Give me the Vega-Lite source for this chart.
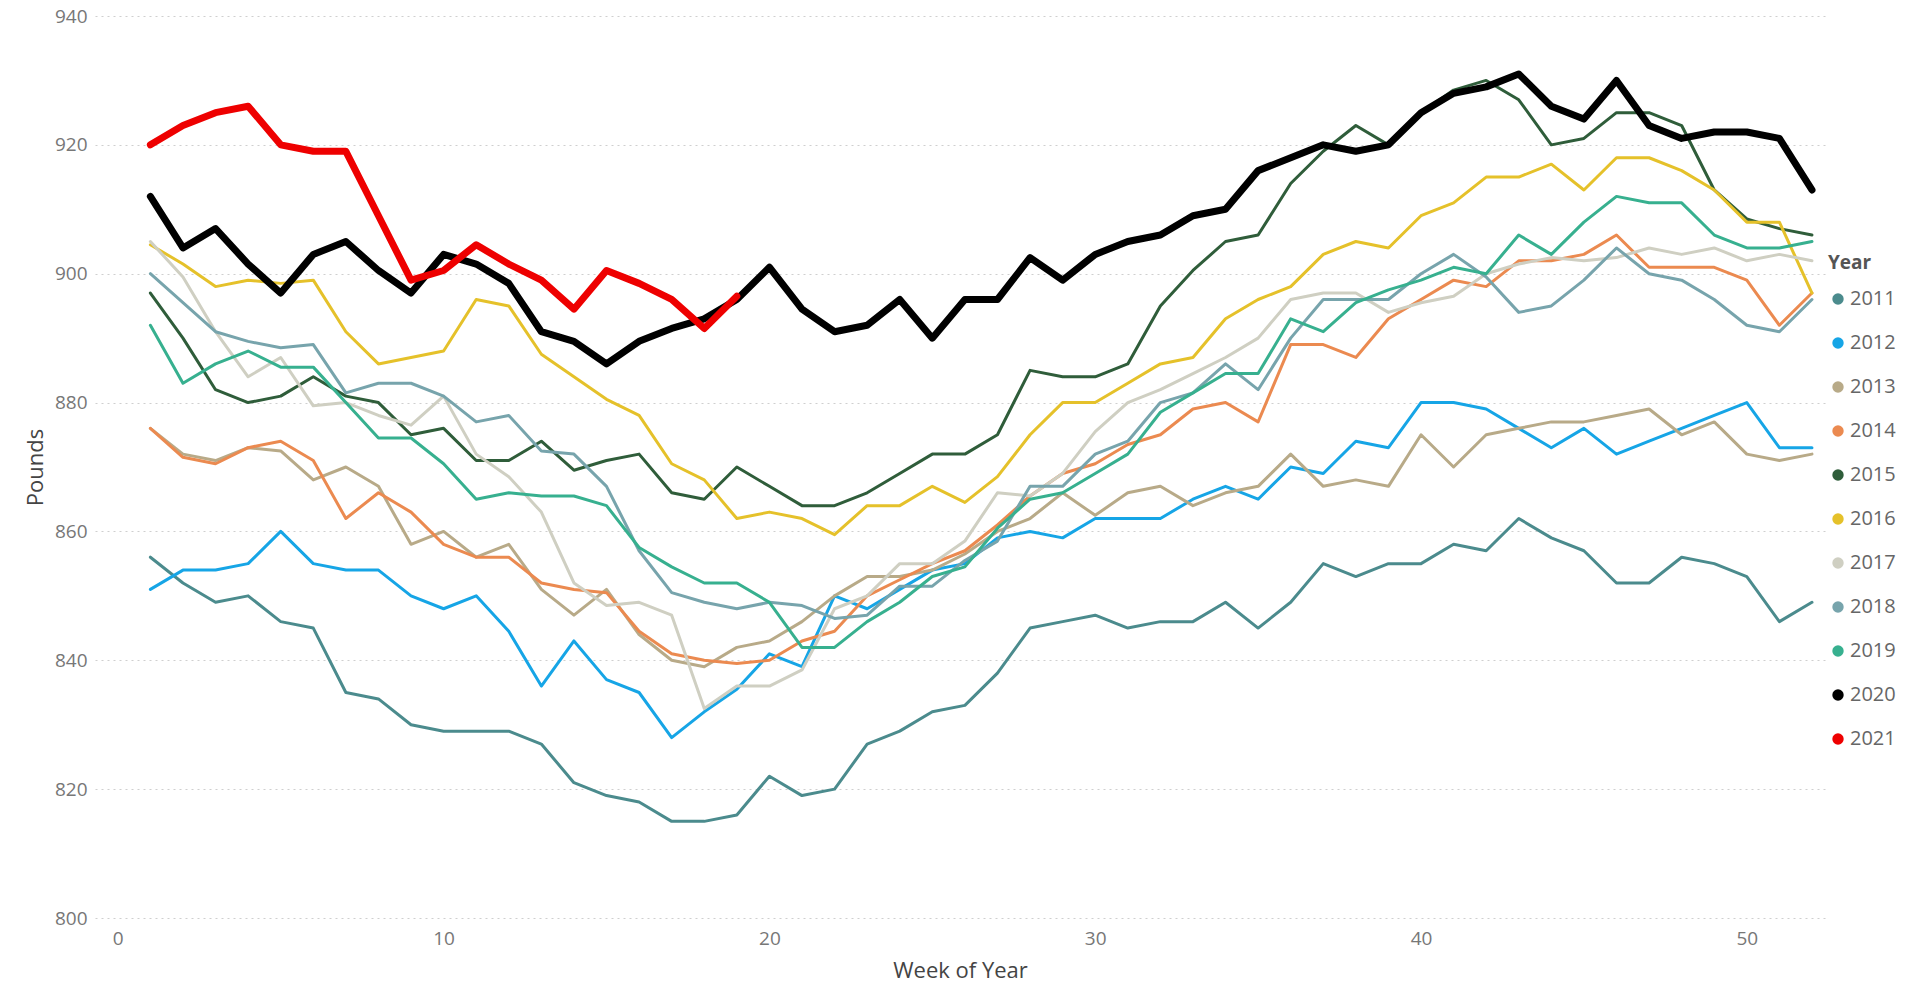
{
"$schema": "https://vega.github.io/schema/vega-lite/v6.json",
"width": 1730, "height": 902,
"autosize": {"type": "none"},
"padding": {"left": 95, "top": 16, "right": 84, "bottom": 70},
"background": "white",
"config": {"font": "Open Sans", "view": {"stroke": null}},
"data": {"values": [
{"Year":"2011","Week":1,"Pounds":856},{"Year":"2011","Week":2,"Pounds":852},{"Year":"2011","Week":3,"Pounds":849},{"Year":"2011","Week":4,"Pounds":850},{"Year":"2011","Week":5,"Pounds":846},{"Year":"2011","Week":6,"Pounds":845},{"Year":"2011","Week":7,"Pounds":835},{"Year":"2011","Week":8,"Pounds":834},{"Year":"2011","Week":9,"Pounds":830},{"Year":"2011","Week":10,"Pounds":829},{"Year":"2011","Week":11,"Pounds":829},{"Year":"2011","Week":12,"Pounds":829},{"Year":"2011","Week":13,"Pounds":827},{"Year":"2011","Week":14,"Pounds":821},{"Year":"2011","Week":15,"Pounds":819},{"Year":"2011","Week":16,"Pounds":818},{"Year":"2011","Week":17,"Pounds":815},{"Year":"2011","Week":18,"Pounds":815},{"Year":"2011","Week":19,"Pounds":816},{"Year":"2011","Week":20,"Pounds":822},{"Year":"2011","Week":21,"Pounds":819},{"Year":"2011","Week":22,"Pounds":820},{"Year":"2011","Week":23,"Pounds":827},{"Year":"2011","Week":24,"Pounds":829},{"Year":"2011","Week":25,"Pounds":832},{"Year":"2011","Week":26,"Pounds":833},{"Year":"2011","Week":27,"Pounds":838},{"Year":"2011","Week":28,"Pounds":845},{"Year":"2011","Week":29,"Pounds":846},{"Year":"2011","Week":30,"Pounds":847},{"Year":"2011","Week":31,"Pounds":845},{"Year":"2011","Week":32,"Pounds":846},{"Year":"2011","Week":33,"Pounds":846},{"Year":"2011","Week":34,"Pounds":849},{"Year":"2011","Week":35,"Pounds":845},{"Year":"2011","Week":36,"Pounds":849},{"Year":"2011","Week":37,"Pounds":855},{"Year":"2011","Week":38,"Pounds":853},{"Year":"2011","Week":39,"Pounds":855},{"Year":"2011","Week":40,"Pounds":855},{"Year":"2011","Week":41,"Pounds":858},{"Year":"2011","Week":42,"Pounds":857},{"Year":"2011","Week":43,"Pounds":862},{"Year":"2011","Week":44,"Pounds":859},{"Year":"2011","Week":45,"Pounds":857},{"Year":"2011","Week":46,"Pounds":852},{"Year":"2011","Week":47,"Pounds":852},{"Year":"2011","Week":48,"Pounds":856},{"Year":"2011","Week":49,"Pounds":855},{"Year":"2011","Week":50,"Pounds":853},{"Year":"2011","Week":51,"Pounds":846},{"Year":"2011","Week":52,"Pounds":849},
{"Year":"2012","Week":1,"Pounds":851},{"Year":"2012","Week":2,"Pounds":854},{"Year":"2012","Week":3,"Pounds":854},{"Year":"2012","Week":4,"Pounds":855},{"Year":"2012","Week":5,"Pounds":860},{"Year":"2012","Week":6,"Pounds":855},{"Year":"2012","Week":7,"Pounds":854},{"Year":"2012","Week":8,"Pounds":854},{"Year":"2012","Week":9,"Pounds":850},{"Year":"2012","Week":10,"Pounds":848},{"Year":"2012","Week":11,"Pounds":850},{"Year":"2012","Week":12,"Pounds":844.5},{"Year":"2012","Week":13,"Pounds":836},{"Year":"2012","Week":14,"Pounds":843},{"Year":"2012","Week":15,"Pounds":837},{"Year":"2012","Week":16,"Pounds":835},{"Year":"2012","Week":17,"Pounds":828},{"Year":"2012","Week":18,"Pounds":832},{"Year":"2012","Week":19,"Pounds":835.5},{"Year":"2012","Week":20,"Pounds":841},{"Year":"2012","Week":21,"Pounds":839},{"Year":"2012","Week":22,"Pounds":850},{"Year":"2012","Week":23,"Pounds":848},{"Year":"2012","Week":24,"Pounds":851},{"Year":"2012","Week":25,"Pounds":854},{"Year":"2012","Week":26,"Pounds":855},{"Year":"2012","Week":27,"Pounds":859},{"Year":"2012","Week":28,"Pounds":860},{"Year":"2012","Week":29,"Pounds":859},{"Year":"2012","Week":30,"Pounds":862},{"Year":"2012","Week":31,"Pounds":862},{"Year":"2012","Week":32,"Pounds":862},{"Year":"2012","Week":33,"Pounds":865},{"Year":"2012","Week":34,"Pounds":867},{"Year":"2012","Week":35,"Pounds":865},{"Year":"2012","Week":36,"Pounds":870},{"Year":"2012","Week":37,"Pounds":869},{"Year":"2012","Week":38,"Pounds":874},{"Year":"2012","Week":39,"Pounds":873},{"Year":"2012","Week":40,"Pounds":880},{"Year":"2012","Week":41,"Pounds":880},{"Year":"2012","Week":42,"Pounds":879},{"Year":"2012","Week":43,"Pounds":876},{"Year":"2012","Week":44,"Pounds":873},{"Year":"2012","Week":45,"Pounds":876},{"Year":"2012","Week":46,"Pounds":872},{"Year":"2012","Week":47,"Pounds":874},{"Year":"2012","Week":48,"Pounds":876},{"Year":"2012","Week":49,"Pounds":878},{"Year":"2012","Week":50,"Pounds":880},{"Year":"2012","Week":51,"Pounds":873},{"Year":"2012","Week":52,"Pounds":873},
{"Year":"2013","Week":1,"Pounds":876},{"Year":"2013","Week":2,"Pounds":872},{"Year":"2013","Week":3,"Pounds":871},{"Year":"2013","Week":4,"Pounds":873},{"Year":"2013","Week":5,"Pounds":872.5},{"Year":"2013","Week":6,"Pounds":868},{"Year":"2013","Week":7,"Pounds":870},{"Year":"2013","Week":8,"Pounds":867},{"Year":"2013","Week":9,"Pounds":858},{"Year":"2013","Week":10,"Pounds":860},{"Year":"2013","Week":11,"Pounds":856},{"Year":"2013","Week":12,"Pounds":858},{"Year":"2013","Week":13,"Pounds":851},{"Year":"2013","Week":14,"Pounds":847},{"Year":"2013","Week":15,"Pounds":851},{"Year":"2013","Week":16,"Pounds":844},{"Year":"2013","Week":17,"Pounds":840},{"Year":"2013","Week":18,"Pounds":839},{"Year":"2013","Week":19,"Pounds":842},{"Year":"2013","Week":20,"Pounds":843},{"Year":"2013","Week":21,"Pounds":846},{"Year":"2013","Week":22,"Pounds":850},{"Year":"2013","Week":23,"Pounds":853},{"Year":"2013","Week":24,"Pounds":853},{"Year":"2013","Week":25,"Pounds":854},{"Year":"2013","Week":26,"Pounds":856.5},{"Year":"2013","Week":27,"Pounds":860},{"Year":"2013","Week":28,"Pounds":862},{"Year":"2013","Week":29,"Pounds":866},{"Year":"2013","Week":30,"Pounds":862.5},{"Year":"2013","Week":31,"Pounds":866},{"Year":"2013","Week":32,"Pounds":867},{"Year":"2013","Week":33,"Pounds":864},{"Year":"2013","Week":34,"Pounds":866},{"Year":"2013","Week":35,"Pounds":867},{"Year":"2013","Week":36,"Pounds":872},{"Year":"2013","Week":37,"Pounds":867},{"Year":"2013","Week":38,"Pounds":868},{"Year":"2013","Week":39,"Pounds":867},{"Year":"2013","Week":40,"Pounds":875},{"Year":"2013","Week":41,"Pounds":870},{"Year":"2013","Week":42,"Pounds":875},{"Year":"2013","Week":43,"Pounds":876},{"Year":"2013","Week":44,"Pounds":877},{"Year":"2013","Week":45,"Pounds":877},{"Year":"2013","Week":46,"Pounds":878},{"Year":"2013","Week":47,"Pounds":879},{"Year":"2013","Week":48,"Pounds":875},{"Year":"2013","Week":49,"Pounds":877},{"Year":"2013","Week":50,"Pounds":872},{"Year":"2013","Week":51,"Pounds":871},{"Year":"2013","Week":52,"Pounds":872},
{"Year":"2014","Week":1,"Pounds":876},{"Year":"2014","Week":2,"Pounds":871.5},{"Year":"2014","Week":3,"Pounds":870.5},{"Year":"2014","Week":4,"Pounds":873},{"Year":"2014","Week":5,"Pounds":874},{"Year":"2014","Week":6,"Pounds":871},{"Year":"2014","Week":7,"Pounds":862},{"Year":"2014","Week":8,"Pounds":866},{"Year":"2014","Week":9,"Pounds":863},{"Year":"2014","Week":10,"Pounds":858},{"Year":"2014","Week":11,"Pounds":856},{"Year":"2014","Week":12,"Pounds":856},{"Year":"2014","Week":13,"Pounds":852},{"Year":"2014","Week":14,"Pounds":851},{"Year":"2014","Week":15,"Pounds":850.5},{"Year":"2014","Week":16,"Pounds":844.5},{"Year":"2014","Week":17,"Pounds":841},{"Year":"2014","Week":18,"Pounds":840},{"Year":"2014","Week":19,"Pounds":839.5},{"Year":"2014","Week":20,"Pounds":840},{"Year":"2014","Week":21,"Pounds":843},{"Year":"2014","Week":22,"Pounds":844.5},{"Year":"2014","Week":23,"Pounds":850},{"Year":"2014","Week":24,"Pounds":852.5},{"Year":"2014","Week":25,"Pounds":855},{"Year":"2014","Week":26,"Pounds":857},{"Year":"2014","Week":27,"Pounds":861},{"Year":"2014","Week":28,"Pounds":865.5},{"Year":"2014","Week":29,"Pounds":869},{"Year":"2014","Week":30,"Pounds":870.5},{"Year":"2014","Week":31,"Pounds":873.5},{"Year":"2014","Week":32,"Pounds":875},{"Year":"2014","Week":33,"Pounds":879},{"Year":"2014","Week":34,"Pounds":880},{"Year":"2014","Week":35,"Pounds":877},{"Year":"2014","Week":36,"Pounds":889},{"Year":"2014","Week":37,"Pounds":889},{"Year":"2014","Week":38,"Pounds":887},{"Year":"2014","Week":39,"Pounds":893},{"Year":"2014","Week":40,"Pounds":896},{"Year":"2014","Week":41,"Pounds":899},{"Year":"2014","Week":42,"Pounds":898},{"Year":"2014","Week":43,"Pounds":902},{"Year":"2014","Week":44,"Pounds":902},{"Year":"2014","Week":45,"Pounds":903},{"Year":"2014","Week":46,"Pounds":906},{"Year":"2014","Week":47,"Pounds":901},{"Year":"2014","Week":48,"Pounds":901},{"Year":"2014","Week":49,"Pounds":901},{"Year":"2014","Week":50,"Pounds":899},{"Year":"2014","Week":51,"Pounds":892},{"Year":"2014","Week":52,"Pounds":897},
{"Year":"2015","Week":1,"Pounds":897},{"Year":"2015","Week":2,"Pounds":890},{"Year":"2015","Week":3,"Pounds":882},{"Year":"2015","Week":4,"Pounds":880},{"Year":"2015","Week":5,"Pounds":881},{"Year":"2015","Week":6,"Pounds":884},{"Year":"2015","Week":7,"Pounds":881},{"Year":"2015","Week":8,"Pounds":880},{"Year":"2015","Week":9,"Pounds":875},{"Year":"2015","Week":10,"Pounds":876},{"Year":"2015","Week":11,"Pounds":871},{"Year":"2015","Week":12,"Pounds":871},{"Year":"2015","Week":13,"Pounds":874},{"Year":"2015","Week":14,"Pounds":869.5},{"Year":"2015","Week":15,"Pounds":871},{"Year":"2015","Week":16,"Pounds":872},{"Year":"2015","Week":17,"Pounds":866},{"Year":"2015","Week":18,"Pounds":865},{"Year":"2015","Week":19,"Pounds":870},{"Year":"2015","Week":20,"Pounds":867},{"Year":"2015","Week":21,"Pounds":864},{"Year":"2015","Week":22,"Pounds":864},{"Year":"2015","Week":23,"Pounds":866},{"Year":"2015","Week":24,"Pounds":869},{"Year":"2015","Week":25,"Pounds":872},{"Year":"2015","Week":26,"Pounds":872},{"Year":"2015","Week":27,"Pounds":875},{"Year":"2015","Week":28,"Pounds":885},{"Year":"2015","Week":29,"Pounds":884},{"Year":"2015","Week":30,"Pounds":884},{"Year":"2015","Week":31,"Pounds":886},{"Year":"2015","Week":32,"Pounds":895},{"Year":"2015","Week":33,"Pounds":900.5},{"Year":"2015","Week":34,"Pounds":905},{"Year":"2015","Week":35,"Pounds":906},{"Year":"2015","Week":36,"Pounds":914},{"Year":"2015","Week":37,"Pounds":919},{"Year":"2015","Week":38,"Pounds":923},{"Year":"2015","Week":39,"Pounds":920},{"Year":"2015","Week":40,"Pounds":925},{"Year":"2015","Week":41,"Pounds":928.5},{"Year":"2015","Week":42,"Pounds":930},{"Year":"2015","Week":43,"Pounds":927},{"Year":"2015","Week":44,"Pounds":920},{"Year":"2015","Week":45,"Pounds":921},{"Year":"2015","Week":46,"Pounds":925},{"Year":"2015","Week":47,"Pounds":925},{"Year":"2015","Week":48,"Pounds":923},{"Year":"2015","Week":49,"Pounds":913},{"Year":"2015","Week":50,"Pounds":908.5},{"Year":"2015","Week":51,"Pounds":907},{"Year":"2015","Week":52,"Pounds":906},
{"Year":"2016","Week":1,"Pounds":904.5},{"Year":"2016","Week":2,"Pounds":901.5},{"Year":"2016","Week":3,"Pounds":898},{"Year":"2016","Week":4,"Pounds":899},{"Year":"2016","Week":5,"Pounds":898.5},{"Year":"2016","Week":6,"Pounds":899},{"Year":"2016","Week":7,"Pounds":891},{"Year":"2016","Week":8,"Pounds":886},{"Year":"2016","Week":9,"Pounds":887},{"Year":"2016","Week":10,"Pounds":888},{"Year":"2016","Week":11,"Pounds":896},{"Year":"2016","Week":12,"Pounds":895},{"Year":"2016","Week":13,"Pounds":887.5},{"Year":"2016","Week":14,"Pounds":884},{"Year":"2016","Week":15,"Pounds":880.5},{"Year":"2016","Week":16,"Pounds":878},{"Year":"2016","Week":17,"Pounds":870.5},{"Year":"2016","Week":18,"Pounds":868},{"Year":"2016","Week":19,"Pounds":862},{"Year":"2016","Week":20,"Pounds":863},{"Year":"2016","Week":21,"Pounds":862},{"Year":"2016","Week":22,"Pounds":859.5},{"Year":"2016","Week":23,"Pounds":864},{"Year":"2016","Week":24,"Pounds":864},{"Year":"2016","Week":25,"Pounds":867},{"Year":"2016","Week":26,"Pounds":864.5},{"Year":"2016","Week":27,"Pounds":868.5},{"Year":"2016","Week":28,"Pounds":875},{"Year":"2016","Week":29,"Pounds":880},{"Year":"2016","Week":30,"Pounds":880},{"Year":"2016","Week":31,"Pounds":883},{"Year":"2016","Week":32,"Pounds":886},{"Year":"2016","Week":33,"Pounds":887},{"Year":"2016","Week":34,"Pounds":893},{"Year":"2016","Week":35,"Pounds":896},{"Year":"2016","Week":36,"Pounds":898},{"Year":"2016","Week":37,"Pounds":903},{"Year":"2016","Week":38,"Pounds":905},{"Year":"2016","Week":39,"Pounds":904},{"Year":"2016","Week":40,"Pounds":909},{"Year":"2016","Week":41,"Pounds":911},{"Year":"2016","Week":42,"Pounds":915},{"Year":"2016","Week":43,"Pounds":915},{"Year":"2016","Week":44,"Pounds":917},{"Year":"2016","Week":45,"Pounds":913},{"Year":"2016","Week":46,"Pounds":918},{"Year":"2016","Week":47,"Pounds":918},{"Year":"2016","Week":48,"Pounds":916},{"Year":"2016","Week":49,"Pounds":913},{"Year":"2016","Week":50,"Pounds":908},{"Year":"2016","Week":51,"Pounds":908},{"Year":"2016","Week":52,"Pounds":897},
{"Year":"2017","Week":1,"Pounds":905},{"Year":"2017","Week":2,"Pounds":899.5},{"Year":"2017","Week":3,"Pounds":891},{"Year":"2017","Week":4,"Pounds":884},{"Year":"2017","Week":5,"Pounds":887},{"Year":"2017","Week":6,"Pounds":879.5},{"Year":"2017","Week":7,"Pounds":880},{"Year":"2017","Week":8,"Pounds":878},{"Year":"2017","Week":9,"Pounds":876.5},{"Year":"2017","Week":10,"Pounds":881},{"Year":"2017","Week":11,"Pounds":872},{"Year":"2017","Week":12,"Pounds":868.5},{"Year":"2017","Week":13,"Pounds":863},{"Year":"2017","Week":14,"Pounds":852},{"Year":"2017","Week":15,"Pounds":848.5},{"Year":"2017","Week":16,"Pounds":849},{"Year":"2017","Week":17,"Pounds":847},{"Year":"2017","Week":18,"Pounds":832.5},{"Year":"2017","Week":19,"Pounds":836},{"Year":"2017","Week":20,"Pounds":836},{"Year":"2017","Week":21,"Pounds":838.5},{"Year":"2017","Week":22,"Pounds":848},{"Year":"2017","Week":23,"Pounds":850},{"Year":"2017","Week":24,"Pounds":855},{"Year":"2017","Week":25,"Pounds":855},{"Year":"2017","Week":26,"Pounds":858.5},{"Year":"2017","Week":27,"Pounds":866},{"Year":"2017","Week":28,"Pounds":865.5},{"Year":"2017","Week":29,"Pounds":869},{"Year":"2017","Week":30,"Pounds":875.5},{"Year":"2017","Week":31,"Pounds":880},{"Year":"2017","Week":32,"Pounds":882},{"Year":"2017","Week":33,"Pounds":884.5},{"Year":"2017","Week":34,"Pounds":887},{"Year":"2017","Week":35,"Pounds":890},{"Year":"2017","Week":36,"Pounds":896},{"Year":"2017","Week":37,"Pounds":897},{"Year":"2017","Week":38,"Pounds":897},{"Year":"2017","Week":39,"Pounds":894},{"Year":"2017","Week":40,"Pounds":895.5},{"Year":"2017","Week":41,"Pounds":896.5},{"Year":"2017","Week":42,"Pounds":900},{"Year":"2017","Week":43,"Pounds":901.5},{"Year":"2017","Week":44,"Pounds":902.5},{"Year":"2017","Week":45,"Pounds":902},{"Year":"2017","Week":46,"Pounds":902.5},{"Year":"2017","Week":47,"Pounds":904},{"Year":"2017","Week":48,"Pounds":903},{"Year":"2017","Week":49,"Pounds":904},{"Year":"2017","Week":50,"Pounds":902},{"Year":"2017","Week":51,"Pounds":903},{"Year":"2017","Week":52,"Pounds":902},
{"Year":"2018","Week":1,"Pounds":900},{"Year":"2018","Week":2,"Pounds":895.5},{"Year":"2018","Week":3,"Pounds":891},{"Year":"2018","Week":4,"Pounds":889.5},{"Year":"2018","Week":5,"Pounds":888.5},{"Year":"2018","Week":6,"Pounds":889},{"Year":"2018","Week":7,"Pounds":881.5},{"Year":"2018","Week":8,"Pounds":883},{"Year":"2018","Week":9,"Pounds":883},{"Year":"2018","Week":10,"Pounds":881},{"Year":"2018","Week":11,"Pounds":877},{"Year":"2018","Week":12,"Pounds":878},{"Year":"2018","Week":13,"Pounds":872.5},{"Year":"2018","Week":14,"Pounds":872},{"Year":"2018","Week":15,"Pounds":867},{"Year":"2018","Week":16,"Pounds":857},{"Year":"2018","Week":17,"Pounds":850.5},{"Year":"2018","Week":18,"Pounds":849},{"Year":"2018","Week":19,"Pounds":848},{"Year":"2018","Week":20,"Pounds":849},{"Year":"2018","Week":21,"Pounds":848.5},{"Year":"2018","Week":22,"Pounds":846.5},{"Year":"2018","Week":23,"Pounds":847},{"Year":"2018","Week":24,"Pounds":851.5},{"Year":"2018","Week":25,"Pounds":851.5},{"Year":"2018","Week":26,"Pounds":855.5},{"Year":"2018","Week":27,"Pounds":858.5},{"Year":"2018","Week":28,"Pounds":867},{"Year":"2018","Week":29,"Pounds":867},{"Year":"2018","Week":30,"Pounds":872},{"Year":"2018","Week":31,"Pounds":874},{"Year":"2018","Week":32,"Pounds":880},{"Year":"2018","Week":33,"Pounds":881.5},{"Year":"2018","Week":34,"Pounds":886},{"Year":"2018","Week":35,"Pounds":882},{"Year":"2018","Week":36,"Pounds":890},{"Year":"2018","Week":37,"Pounds":896},{"Year":"2018","Week":38,"Pounds":896},{"Year":"2018","Week":39,"Pounds":896},{"Year":"2018","Week":40,"Pounds":900},{"Year":"2018","Week":41,"Pounds":903},{"Year":"2018","Week":42,"Pounds":899.5},{"Year":"2018","Week":43,"Pounds":894},{"Year":"2018","Week":44,"Pounds":895},{"Year":"2018","Week":45,"Pounds":899},{"Year":"2018","Week":46,"Pounds":904},{"Year":"2018","Week":47,"Pounds":900},{"Year":"2018","Week":48,"Pounds":899},{"Year":"2018","Week":49,"Pounds":896},{"Year":"2018","Week":50,"Pounds":892},{"Year":"2018","Week":51,"Pounds":891},{"Year":"2018","Week":52,"Pounds":896},
{"Year":"2019","Week":1,"Pounds":892},{"Year":"2019","Week":2,"Pounds":883},{"Year":"2019","Week":3,"Pounds":886},{"Year":"2019","Week":4,"Pounds":888},{"Year":"2019","Week":5,"Pounds":885.5},{"Year":"2019","Week":6,"Pounds":885.5},{"Year":"2019","Week":7,"Pounds":880},{"Year":"2019","Week":8,"Pounds":874.5},{"Year":"2019","Week":9,"Pounds":874.5},{"Year":"2019","Week":10,"Pounds":870.5},{"Year":"2019","Week":11,"Pounds":865},{"Year":"2019","Week":12,"Pounds":866},{"Year":"2019","Week":13,"Pounds":865.5},{"Year":"2019","Week":14,"Pounds":865.5},{"Year":"2019","Week":15,"Pounds":864},{"Year":"2019","Week":16,"Pounds":857.5},{"Year":"2019","Week":17,"Pounds":854.5},{"Year":"2019","Week":18,"Pounds":852},{"Year":"2019","Week":19,"Pounds":852},{"Year":"2019","Week":20,"Pounds":849},{"Year":"2019","Week":21,"Pounds":842},{"Year":"2019","Week":22,"Pounds":842},{"Year":"2019","Week":23,"Pounds":846},{"Year":"2019","Week":24,"Pounds":849},{"Year":"2019","Week":25,"Pounds":853},{"Year":"2019","Week":26,"Pounds":854.5},{"Year":"2019","Week":27,"Pounds":860.5},{"Year":"2019","Week":28,"Pounds":865},{"Year":"2019","Week":29,"Pounds":866},{"Year":"2019","Week":30,"Pounds":869},{"Year":"2019","Week":31,"Pounds":872},{"Year":"2019","Week":32,"Pounds":878.5},{"Year":"2019","Week":33,"Pounds":881.5},{"Year":"2019","Week":34,"Pounds":884.5},{"Year":"2019","Week":35,"Pounds":884.5},{"Year":"2019","Week":36,"Pounds":893},{"Year":"2019","Week":37,"Pounds":891},{"Year":"2019","Week":38,"Pounds":895.5},{"Year":"2019","Week":39,"Pounds":897.5},{"Year":"2019","Week":40,"Pounds":899},{"Year":"2019","Week":41,"Pounds":901},{"Year":"2019","Week":42,"Pounds":900},{"Year":"2019","Week":43,"Pounds":906},{"Year":"2019","Week":44,"Pounds":903},{"Year":"2019","Week":45,"Pounds":908},{"Year":"2019","Week":46,"Pounds":912},{"Year":"2019","Week":47,"Pounds":911},{"Year":"2019","Week":48,"Pounds":911},{"Year":"2019","Week":49,"Pounds":906},{"Year":"2019","Week":50,"Pounds":904},{"Year":"2019","Week":51,"Pounds":904},{"Year":"2019","Week":52,"Pounds":905},
{"Year":"2020","Week":1,"Pounds":912},{"Year":"2020","Week":2,"Pounds":904},{"Year":"2020","Week":3,"Pounds":907},{"Year":"2020","Week":4,"Pounds":901.5},{"Year":"2020","Week":5,"Pounds":897},{"Year":"2020","Week":6,"Pounds":903},{"Year":"2020","Week":7,"Pounds":905},{"Year":"2020","Week":8,"Pounds":900.5},{"Year":"2020","Week":9,"Pounds":897},{"Year":"2020","Week":10,"Pounds":903},{"Year":"2020","Week":11,"Pounds":901.5},{"Year":"2020","Week":12,"Pounds":898.5},{"Year":"2020","Week":13,"Pounds":891},{"Year":"2020","Week":14,"Pounds":889.5},{"Year":"2020","Week":15,"Pounds":886},{"Year":"2020","Week":16,"Pounds":889.5},{"Year":"2020","Week":17,"Pounds":891.5},{"Year":"2020","Week":18,"Pounds":893},{"Year":"2020","Week":19,"Pounds":896},{"Year":"2020","Week":20,"Pounds":901},{"Year":"2020","Week":21,"Pounds":894.5},{"Year":"2020","Week":22,"Pounds":891},{"Year":"2020","Week":23,"Pounds":892},{"Year":"2020","Week":24,"Pounds":896},{"Year":"2020","Week":25,"Pounds":890},{"Year":"2020","Week":26,"Pounds":896},{"Year":"2020","Week":27,"Pounds":896},{"Year":"2020","Week":28,"Pounds":902.5},{"Year":"2020","Week":29,"Pounds":899},{"Year":"2020","Week":30,"Pounds":903},{"Year":"2020","Week":31,"Pounds":905},{"Year":"2020","Week":32,"Pounds":906},{"Year":"2020","Week":33,"Pounds":909},{"Year":"2020","Week":34,"Pounds":910},{"Year":"2020","Week":35,"Pounds":916},{"Year":"2020","Week":36,"Pounds":918},{"Year":"2020","Week":37,"Pounds":920},{"Year":"2020","Week":38,"Pounds":919},{"Year":"2020","Week":39,"Pounds":920},{"Year":"2020","Week":40,"Pounds":925},{"Year":"2020","Week":41,"Pounds":928},{"Year":"2020","Week":42,"Pounds":929},{"Year":"2020","Week":43,"Pounds":931},{"Year":"2020","Week":44,"Pounds":926},{"Year":"2020","Week":45,"Pounds":924},{"Year":"2020","Week":46,"Pounds":930},{"Year":"2020","Week":47,"Pounds":923},{"Year":"2020","Week":48,"Pounds":921},{"Year":"2020","Week":49,"Pounds":922},{"Year":"2020","Week":50,"Pounds":922},{"Year":"2020","Week":51,"Pounds":921},{"Year":"2020","Week":52,"Pounds":913},
{"Year":"2021","Week":1,"Pounds":920},{"Year":"2021","Week":2,"Pounds":923},{"Year":"2021","Week":3,"Pounds":925},{"Year":"2021","Week":4,"Pounds":926},{"Year":"2021","Week":5,"Pounds":920},{"Year":"2021","Week":6,"Pounds":919},{"Year":"2021","Week":7,"Pounds":919},{"Year":"2021","Week":8,"Pounds":909},{"Year":"2021","Week":9,"Pounds":899},{"Year":"2021","Week":10,"Pounds":900.5},{"Year":"2021","Week":11,"Pounds":904.5},{"Year":"2021","Week":12,"Pounds":901.5},{"Year":"2021","Week":13,"Pounds":899},{"Year":"2021","Week":14,"Pounds":894.5},{"Year":"2021","Week":15,"Pounds":900.5},{"Year":"2021","Week":16,"Pounds":898.5},{"Year":"2021","Week":17,"Pounds":896},{"Year":"2021","Week":18,"Pounds":891.5},{"Year":"2021","Week":19,"Pounds":896.5}
]},
"encoding": {
  "x": {"field": "Week", "type": "quantitative",
    "scale": {"domain": [-0.7, 52.4], "nice": false, "zero": false},
    "axis": {"values": [0,10,20,30,40,50], "grid": false, "domain": false, "ticks": false,
      "labelPadding": 11, "labelFontSize": 19, "labelColor": "#777777",
      "title": "Week of Year", "titleFontSize": 22, "titleFontWeight": "normal", "titleColor": "#444444", "titlePadding": 12}},
  "y": {"field": "Pounds", "type": "quantitative",
    "scale": {"domain": [800, 940], "nice": false, "zero": false},
    "axis": {"values": [800,820,840,860,880,900,920,940], "grid": true, "gridDash": [2,4], "gridColor": "#cfcfcf", "gridWidth": 1,
      "domain": false, "ticks": false, "labelPadding": 8, "labelFontSize": 19, "labelColor": "#777777",
      "title": "Pounds", "titleFontSize": 22, "titleFontWeight": "normal", "titleColor": "#444444", "titlePadding": 7}},
  "color": {"field": "Year", "type": "nominal",
    "scale": {"domain": ["2011","2012","2013","2014","2015","2016","2017","2018","2019","2020","2021"],
      "range": ["#4B8B8D","#16A5E6","#B8AA88","#EB8A50","#2F5D3A","#E5C12A","#CFCFC2","#77A4AC","#37B08F","#000000","#EE0000"]},
    "legend": {"orient": "none", "legendX": 1733, "legendY": 238, "title": "Year", "titleFontSize": 19, "titleFontWeight": "bold", "titleColor": "#555555",
      "labelFontSize": 20, "labelColor": "#666666", "symbolType": "circle", "symbolSize": 130, "rowPadding": 24, "titlePadding": 16, "labelOffset": 2,
      "encode": {"symbols": {"update": {"fill": {"scale": "color", "field": "value"}, "stroke": {"value": "transparent"}, "strokeWidth": {"value": 0}}}}}}
},
"layer": [
  {"transform": [{"filter": {"field": "Year", "oneOf": ["2011","2012","2013","2014","2015","2016","2017","2018","2019"]}}],
   "mark": {"type": "line", "strokeWidth": 3, "strokeJoin": "round", "strokeCap": "round"}},
  {"transform": [{"filter": {"field": "Year", "oneOf": ["2020","2021"]}}],
   "mark": {"type": "line", "strokeWidth": 7, "strokeJoin": "round", "strokeCap": "round"}}
]
}
